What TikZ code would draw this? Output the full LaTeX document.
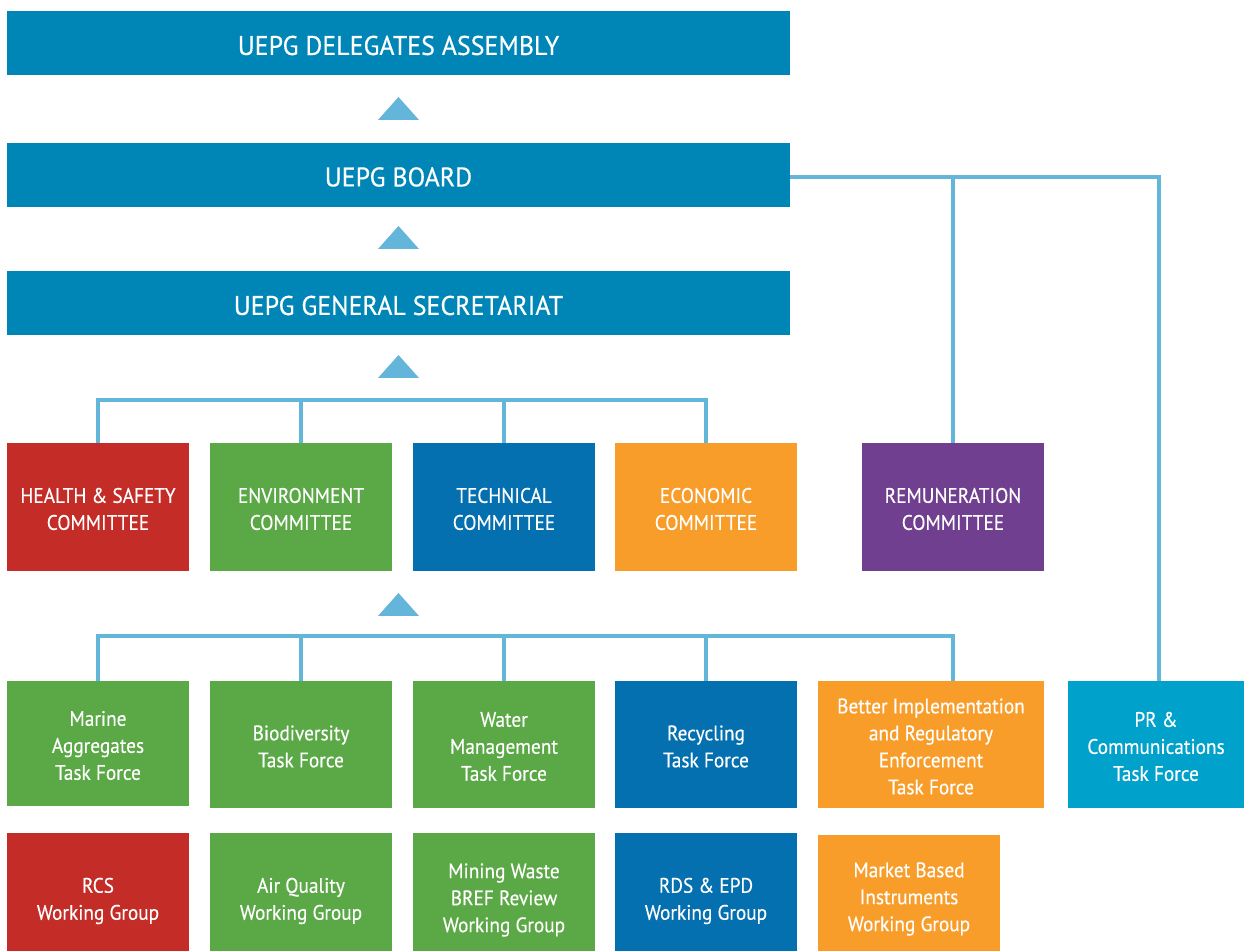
\documentclass[tikz,border=0pt]{standalone}
\usepackage{fontspec}
\setmainfont{PT Sans}
\newfontfamily\headfont[FakeStretch=0.96,FakeBold=0.4]{PT Sans}
\newfontfamily\bodyfont[FakeStretch=0.92,FakeBold=0.3]{PT Sans}
\usetikzlibrary{positioning,calc}
\definecolor{hdr}{HTML}{0085B7}
\definecolor{hsred}{HTML}{C42D27}
\definecolor{envgreen}{HTML}{5BA846}
\definecolor{techblue}{HTML}{0570B0}
\definecolor{ecoorange}{HTML}{F99D2A}
\definecolor{rempurple}{HTML}{703F8F}
\definecolor{prblue}{HTML}{00A1CA}
\definecolor{linec}{HTML}{63B6D9}
\begin{document}
\begin{tikzpicture}[x=0.5pt,y=-0.5pt,
  box/.style={inner sep=0pt, outer sep=0pt, anchor=center},
  txt/.style={inner sep=0pt, text=white, align=center},
  lab/.style 2 args={label={[txt,yshift=#1]center:{#2}}},
  head/.style={box, fill=hdr, minimum width=391.5pt, minimum height=32pt},
  htxt/.style={txt, font=\headfont\fontsize{13.5}{16}\selectfont},
  btxt/.style={txt, font=\bodyfont\fontsize{10.5}{13.5}\selectfont},
  cbox/.style={box, minimum width=91pt, minimum height=64pt},
  tbox/.style={box, minimum width=91pt, minimum height=63.5pt},
  wbox/.style={box, minimum width=91pt, minimum height=59pt},
  conn/.style={draw=linec, line width=2pt},
  tri/.style={fill=linec}
]
\useasboundingbox (0,0) rectangle (1244,951);
% header boxes
\node[head, label={[htxt,yshift=-1pt]center:{UEPG DELEGATES ASSEMBLY}}] (del) at (398.5,43.5) {};
\node[head, label={[htxt,yshift=-1pt]center:{UEPG BOARD}}] (board) at (398.5,175) {};
\node[head, label={[htxt,yshift=-1pt]center:{UEPG GENERAL SECRETARIAT}}] (sec) at (398.5,303.5) {};
% triangles
\coordinate (t1) at (398.5,120);
\coordinate (t2) at (398.5,249);
\coordinate (t3) at (398.5,378);
\coordinate (t4) at (398.5,616);
\foreach \t in {t1,t2,t3,t4}{
  \fill[tri] ($(\t)+(-20.5,0)$) -- ($(\t)+(20.5,0)$) -- ($(\t)+(0,-23)$) -- cycle;
}
% committees
\node[cbox, fill=hsred, label={[btxt,yshift=-1pt]center:{HEALTH \& SAFETY\\COMMITTEE}}] (hs) at (98,507) {};
\node[cbox, fill=envgreen, label={[btxt,yshift=-1pt]center:{ENVIRONMENT\\COMMITTEE}}] (env) at (301,507) {};
\node[cbox, fill=techblue, label={[btxt,yshift=-1pt]center:{TECHNICAL\\COMMITTEE}}] (tech) at (504,507) {};
\node[cbox, fill=ecoorange, label={[btxt,yshift=-1pt]center:{ECONOMIC\\COMMITTEE}}] (eco) at (706,507) {};
\node[cbox, fill=rempurple, label={[btxt,yshift=-1pt]center:{REMUNERATION\\COMMITTEE}}] (rem) at (953,507) {};
% task forces
\node[tbox, fill=envgreen, minimum height=62.5pt, label={[btxt,yshift=-1pt]center:{Marine\\Aggregates\\Task Force}}] (marine) at (98,743.5) {};
\node[tbox, fill=envgreen, label={[btxt,yshift=-1pt]center:{Biodiversity\\Task Force}}] (bio) at (301,744.5) {};
\node[tbox, fill=envgreen, label={[btxt,yshift=-1pt]center:{Water\\Management\\Task Force}}] (water) at (504,744.5) {};
\node[tbox, fill=techblue, label={[btxt,yshift=-1pt]center:{Recycling\\Task Force}}] (recyc) at (706,744.5) {};
\node[tbox, fill=ecoorange, minimum width=113pt, label={[btxt,yshift=-1pt]center:{Better Implementation\\and Regulatory\\Enforcement\\Task Force}}] (better) at (931,744.5) {};
\node[tbox, fill=prblue, minimum width=88pt, label={[btxt,yshift=-1pt]center:{PR \&\\Communications\\Task Force}}] (pr) at (1156,744.5) {};
% working groups
\node[wbox, fill=hsred, label={[btxt,yshift=-4.5pt]center:{RCS\\Working Group}}] (rcs) at (98,892) {};
\node[wbox, fill=envgreen, label={[btxt,yshift=-4.5pt]center:{Air Quality\\Working Group}}] (air) at (301,892) {};
\node[wbox, fill=envgreen, label={[btxt,yshift=-4pt]center:{Mining Waste\\BREF Review\\Working Group}}] (mining) at (504,892) {};
\node[wbox, fill=techblue, label={[btxt,yshift=-4.5pt]center:{RDS \& EPD\\Working Group}}] (rds) at (706,892) {};
\node[wbox, fill=ecoorange, minimum height=58pt, label={[btxt,yshift=-3pt]center:{Market Based\\Instruments\\Working Group}}] (market) at (909,893) {};
% board connectors
\coordinate (bj) at (1159,177);
\draw[conn] (board.east |- bj) -- (bj) -- (bj |- pr.north);
\draw[conn] (rem.north |- bj) -- (rem.north);
% committee bar
\coordinate (cbar) at (0,400);
\draw[conn] (hs.north) -- (hs.north |- cbar) -- (eco.north |- cbar) -- (eco.north);
\draw[conn] (env.north) -- (env.north |- cbar);
\draw[conn] (tech.north) -- (tech.north |- cbar);
% task force bar
\coordinate (tbar) at (0,636);
\draw[conn] (marine.north) -- (marine.north |- tbar) -- (rem.south |- tbar) -- (better.north -| rem.south);
\draw[conn] (bio.north) -- (bio.north |- tbar);
\draw[conn] (water.north) -- (water.north |- tbar);
\draw[conn] (recyc.north) -- (recyc.north |- tbar);
\end{tikzpicture}
\end{document}
